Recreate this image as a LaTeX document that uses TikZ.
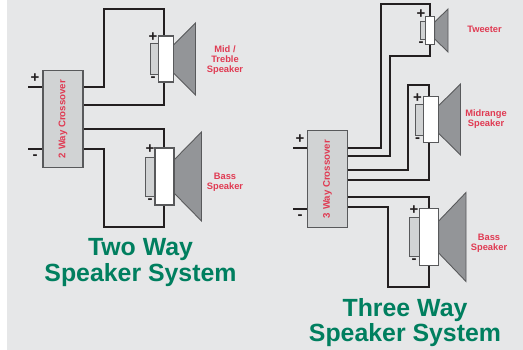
\documentclass[tikz,border=0pt]{standalone}
\usepackage{fontspec}
\setmainfont{Liberation Sans}
\definecolor{panelgray}{HTML}{E6E7E8}
\definecolor{boxgray}{HTML}{D1D3D4}
\definecolor{conegray}{HTML}{939598}
\definecolor{edgegray}{HTML}{58595B}
\definecolor{wireblack}{HTML}{231F20}
\definecolor{labelred}{HTML}{E03A52}
\definecolor{titlegreen}{HTML}{007F5F}
\tikzset{
	wire/.style={draw=wireblack,line width=1.12pt},
	xobox/.style={draw=edgegray,fill=boxgray,line width=.7pt,rotate=90,inner sep=0pt,text=labelred,font=\bfseries\fontsize{5.5}{6}\selectfont},
	coil/.style={draw=edgegray,fill=white,line width=.6pt,inner sep=0pt},
	magnet/.style={draw=edgegray,fill=boxgray,line width=.45pt,inner sep=0pt},
	cone/.style={draw=edgegray,fill=conegray,line width=.5pt},
	spklabel/.style={text=labelred,align=center,font=\bfseries\fontsize{5.3}{5.7}\selectfont},
	pol/.style={text=wireblack,inner sep=0pt,font=\bfseries\fontsize{8.5}{9}\selectfont},
	systitle/.style={text=titlegreen,align=center,font=\bfseries\fontsize{14.15}{14.6}\selectfont}
}
\begin{document}
\begin{tikzpicture}[x=.02cm,y=-.02cm]
	\useasboundingbox (0,0) rectangle (523,350);
	\fill[panelgray] (7,0) rectangle (523,350);
	% wire ends
	\path
	(28,87.2) coordinate (inApos)
	(28,149.2) coordinate (inAneg)
	(43,87.2) coordinate (xoAin)
	(43,149.2) coordinate (xoAinn)
	(83,87.2) coordinate (xoAa)
	(83,105.2) coordinate (xoAb)
	(83,129.2) coordinate (xoAc)
	(83,149.2) coordinate (xoAd)
	(164.2,37) coordinate (midApos)
	(164.2,81) coordinate (midAneg)
	(164.2,149) coordinate (bassApos)
	(164.2,204) coordinate (bassAneg)
	(293,148.2) coordinate (inBpos)
	(293,209.2) coordinate (inBneg)
	(308,148.2) coordinate (xoBin)
	(308,209.2) coordinate (xoBinn)
	(347.7,148.2) coordinate (xoBa)
	(347.7,156.2) coordinate (xoBb)
	(347.7,170.2) coordinate (xoBc)
	(347.7,180.2) coordinate (xoBd)
	(347.7,197.2) coordinate (xoBe)
	(347.7,207.2) coordinate (xoBf)
	(430.2,17) coordinate (twtpos)
	(430.2,44) coordinate (twtneg)
	(429.2,97) coordinate (midBpos)
	(429.2,142) coordinate (midBneg)
	(429.2,209) coordinate (bassBpos)
	(429.2,265) coordinate (bassBneg)
	;
	% two way
	\draw[wire] (inApos)--(xoAin);
	\draw[wire] (inAneg)--(xoAinn);
	\draw[wire] (xoAa)-|(104.2,9.2)-|(midApos);
	\draw[wire] (xoAb)-|(midAneg);
	\draw[wire] (xoAc)-|(bassApos);
	\draw[wire] (xoAd)-|(104.2,227.2)-|(bassAneg);
	% three way
	\draw[wire] (inBpos)--(xoBin);
	\draw[wire] (inBneg)--(xoBinn);
	\draw[wire] (xoBa)-|(381.2,4.2)-|(twtpos);
	\draw[wire] (xoBb)-|(390.2,56.2)-|(twtneg);
	\draw[wire] (xoBc)-|(408.2,85.2)-|(midBpos);
	\draw[wire] (xoBd)-|(midBneg);
	\draw[wire] (xoBe)-|(bassBpos);
	\draw[wire] (xoBf)-|(388.2,287.2)-|(bassBneg);
	% cones
	\draw[cone] (173.5,45)--(195.5,23)--(195.5,95)--(173.5,73)--cycle;
	\draw[cone] (174,160)--(201.5,132)--(201.5,221)--(174,193)--cycle;
	\draw[cone] (434.7,22)--(448,9)--(448,52)--(434.7,39)--cycle;
	\draw[cone] (438.3,106)--(460.5,84)--(460.5,155)--(438.3,133)--cycle;
	\draw[cone] (438.7,221)--(466,192.5)--(466,281.5)--(438.7,253)--cycle;
	% crossovers
	\node[xobox,minimum width=1.93cm,minimum height=.8cm] (xoA) at (63,119) {2 Way Crossover};
	\node[xobox,minimum width=1.93cm,minimum height=.81cm] (xoB) at (327.5,179) {3 Way Crossover};
	% speakers
	\node[magnet,minimum width=.16cm,minimum height=.62cm] (magMid) at (154.5,59) {};
	\node[coil,minimum width=.3cm,minimum height=.92cm] (coilMid) at (166,59) {};
	\node[magnet,minimum width=.2cm,minimum height=.78cm] (magBass) at (150,176.5) {};
	\node[coil,minimum width=.38cm,minimum height=1.14cm] (coilBass) at (164.5,176.5) {};
	\node[magnet,minimum width=.11cm,minimum height=.37cm] (magTwt) at (423,30.2) {};
	\node[coil,minimum width=.18cm,minimum height=.55cm] (coilTwt) at (430.2,30.5) {};
	\node[magnet,minimum width=.16cm,minimum height=.62cm] (magMidB) at (419.4,119.5) {};
	\node[coil,minimum width=.3cm,minimum height=.92cm] (coilMidB) at (430.8,119.7) {};
	\node[magnet,minimum width=.2cm,minimum height=.78cm] (magBassB) at (414.4,237) {};
	\node[coil,minimum width=.39cm,minimum height=1.14cm] (coilBassB) at (429,237) {};
	% polarity
	\path
	(35,78.5) node[pol] (pA) {+}
	(35,157) node[pol] (nA) {-}
	(153,37) node[pol] (pMid) {+}
	(153,79) node[pol] (nMid) {-}
	(150,149.5) node[pol] (pBass) {+}
	(150,201.5) node[pol] (nBass) {-}
	(300,139) node[pol] (pB) {+}
	(300,217) node[pol] (nB) {-}
	(421,14.5) node[pol] (pTwt) {+}
	(421,44.5) node[pol] (nTwt) {-}
	(417.5,98.5) node[pol] (pMidB) {+}
	(417.5,140) node[pol] (nMidB) {-}
	(414,210.5) node[pol] (pBassB) {+}
	(414,261.5) node[pol] (nBassB) {-}
	;
	% labels
	\path
	(225,60) node[spklabel] (lblMid) {Mid /\\Treble\\Speaker}
	(225,182) node[spklabel] (lblBass) {Bass\\Speaker}
	(484.5,29.5) node[spklabel] (lblTwt) {Tweeter}
	(486,119) node[spklabel] (lblMidB) {Midrange\\Speaker}
	(489,243) node[spklabel] (lblBassB) {Bass\\Speaker}
	(140.5,262.5) node[systitle] (titleA) {Two Way\\Speaker System}
	(405,322.5) node[systitle] (titleB) {Three Way\\Speaker System}
	;
\end{tikzpicture}
\end{document}
